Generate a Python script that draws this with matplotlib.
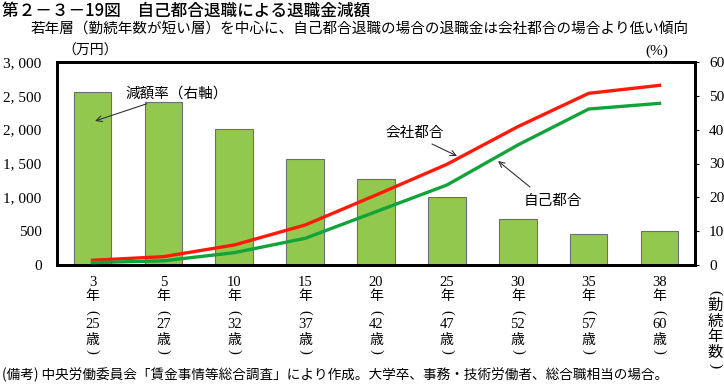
import matplotlib
matplotlib.use("Agg")
import matplotlib.pyplot as plt
import matplotlib.transforms as mtransforms
import numpy as np

plt.rcParams['font.family'] = ['Noto Sans CJK JP', 'DejaVu Sans']

years = ["3", "5", "10", "15", "20", "25", "30", "35", "38"]
ages = ["25", "27", "32", "37", "42", "47", "52", "57", "60"]
company = [70, 123, 296, 591, 1034, 1488, 2044, 2537, 2655]   # 会社都合 (万円)
self_q = [35, 62, 182, 394, 788, 1182, 1773, 2305, 2389]      # 自己都合 (万円)
rate = [51.1, 48.1, 40.2, 31.2, 25.3, 20.2, 13.5, 9.2, 10.0]  # 減額率 (%)
left_ticks = [0, 500, 1000, 1500, 2000, 2500, 3000]
right_ticks = [0, 10, 20, 30, 40, 50, 60]

W, H = 724, 385
fig = plt.figure(figsize=(W/100, H/100), dpi=100)
ax = fig.add_axes([57/W, 1-265/H, (695-57)/W, (265-62)/H])
ax2 = ax.twinx()
x = np.arange(len(years))

# bars on host axis (right scale)
ax.bar(x, rate, width=0.53, color='#92C84E', edgecolor='#6E6E6E', linewidth=0.8, zorder=2)
ax.set_ylim(0, 60)
ax.set_xlim(-0.5, len(years) - 0.5)
ax.set_xticks([])

# lines on twin axis (left scale)
ax2.plot(x, company, color='#FF1A0A', linewidth=2.4, zorder=3)
ax2.plot(x, self_q, color='#12A33A', linewidth=2.4, zorder=3)
ax2.set_ylim(0, 3000)

ax.yaxis.tick_right()
ax.yaxis.set_label_position('right')
ax.set_yticks(right_ticks)
ax.set_yticklabels([str(v) for v in right_ticks], fontfamily='Liberation Serif', fontsize=11)
ax.tick_params(axis='y', direction='out', length=3, width=0.8, pad=7)

ax2.yaxis.tick_left()
ax2.yaxis.set_label_position('left')
ax2.set_yticks(left_ticks)
ax2.set_yticklabels([f"{v:,}".replace(",", ", ") for v in left_ticks], fontfamily='Liberation Serif', fontsize=11)
ax2.tick_params(axis='y', direction='out', length=0, pad=11)

for a in (ax, ax2):
    for s in a.spines.values():
        s.set_linewidth(2.0)
        s.set_color('black')

# x category labels (vertical), y in figure pixels
trans = mtransforms.blended_transform_factory(ax.transData, fig.transFigure)
def fy(yp):
    return 1 - yp/H
serif = 'Liberation Serif'
for i in range(len(years)):
    ax.text(x[i], fy(283), years[i], transform=trans, ha='center', va='center', fontsize=10.5, fontfamily=serif)
    ax.text(x[i], fy(296), "年", transform=trans, ha='center', va='center', fontsize=10)
    ax.text(x[i], fy(312), "(", transform=trans, ha='center', va='center', fontsize=10.5, rotation=-90, fontfamily=serif)
    ax.text(x[i], fy(325), ages[i], transform=trans, ha='center', va='center', fontsize=10.5, fontfamily=serif)
    ax.text(x[i], fy(340), "歳", transform=trans, ha='center', va='center', fontsize=10)
    ax.text(x[i], fy(351), ")", transform=trans, ha='center', va='center', fontsize=10.5, rotation=-90, fontfamily=serif)

# right-side vertical label
fig.text(715/W, fy(293), "(", ha='center', va='center', fontsize=11, rotation=-90, fontfamily=serif)
for ch, yp in [("勤", 305), ("続", 321), ("年", 337), ("数", 353)]:
    fig.text(715/W, fy(yp), ch, ha='center', va='center', fontsize=11)
fig.text(715/W, fy(366), ")", ha='center', va='center', fontsize=11, rotation=-90, fontfamily=serif)

# annotations (pixel coords)
def px(xp, yp):
    return (xp/W, 1-yp/H)

arrow = dict(arrowstyle='->', color='#333333', lw=0.8, shrinkA=0, shrinkB=0)
ax.annotate("減額率（右軸）", xy=px(95, 121), xycoords='figure fraction',
            xytext=px(125, 94), textcoords='figure fraction', ha='left', va='center', fontsize=10.5,
            arrowprops=arrow)
ax.annotate("", xy=px(457, 156), xycoords='figure fraction',
            xytext=px(432, 144), textcoords='figure fraction', arrowprops=arrow)
fig.text(385/W, fy(133), "会社都合", ha='left', va='center', fontsize=10.5)
ax.annotate("", xy=px(498, 161), xycoords='figure fraction',
            xytext=px(530, 187), textcoords='figure fraction', arrowprops=arrow)
fig.text(524/W, fy(201), "自己都合", ha='left', va='center', fontsize=10.5)

# titles and units
fig.text(2/W, fy(11), "第２－３－19図　自己都合退職による退職金減額", ha='left', va='center', fontsize=12, fontweight='medium')
fig.text(31/W, fy(30), "若年層（勤続年数が短い層）を中心に、自己都合退職の場合の退職金は会社都合の場合より低い傾向",
         ha='left', va='center', fontsize=10.5)
fig.text(62/W, fy(51), "（万円）", ha='left', va='center', fontsize=10)
fig.text(668/W, fy(51), "(%)", ha='right', va='center', fontsize=11, fontfamily=serif)
fig.text(2/W, fy(375), "(備考) 中央労働委員会「賃金事情等総合調査」により作成。大学卒、事務・技術労働者、総合職相当の場合。",
         ha='left', va='center', fontsize=9.8)

fig.savefig("out.png", dpi=100)
